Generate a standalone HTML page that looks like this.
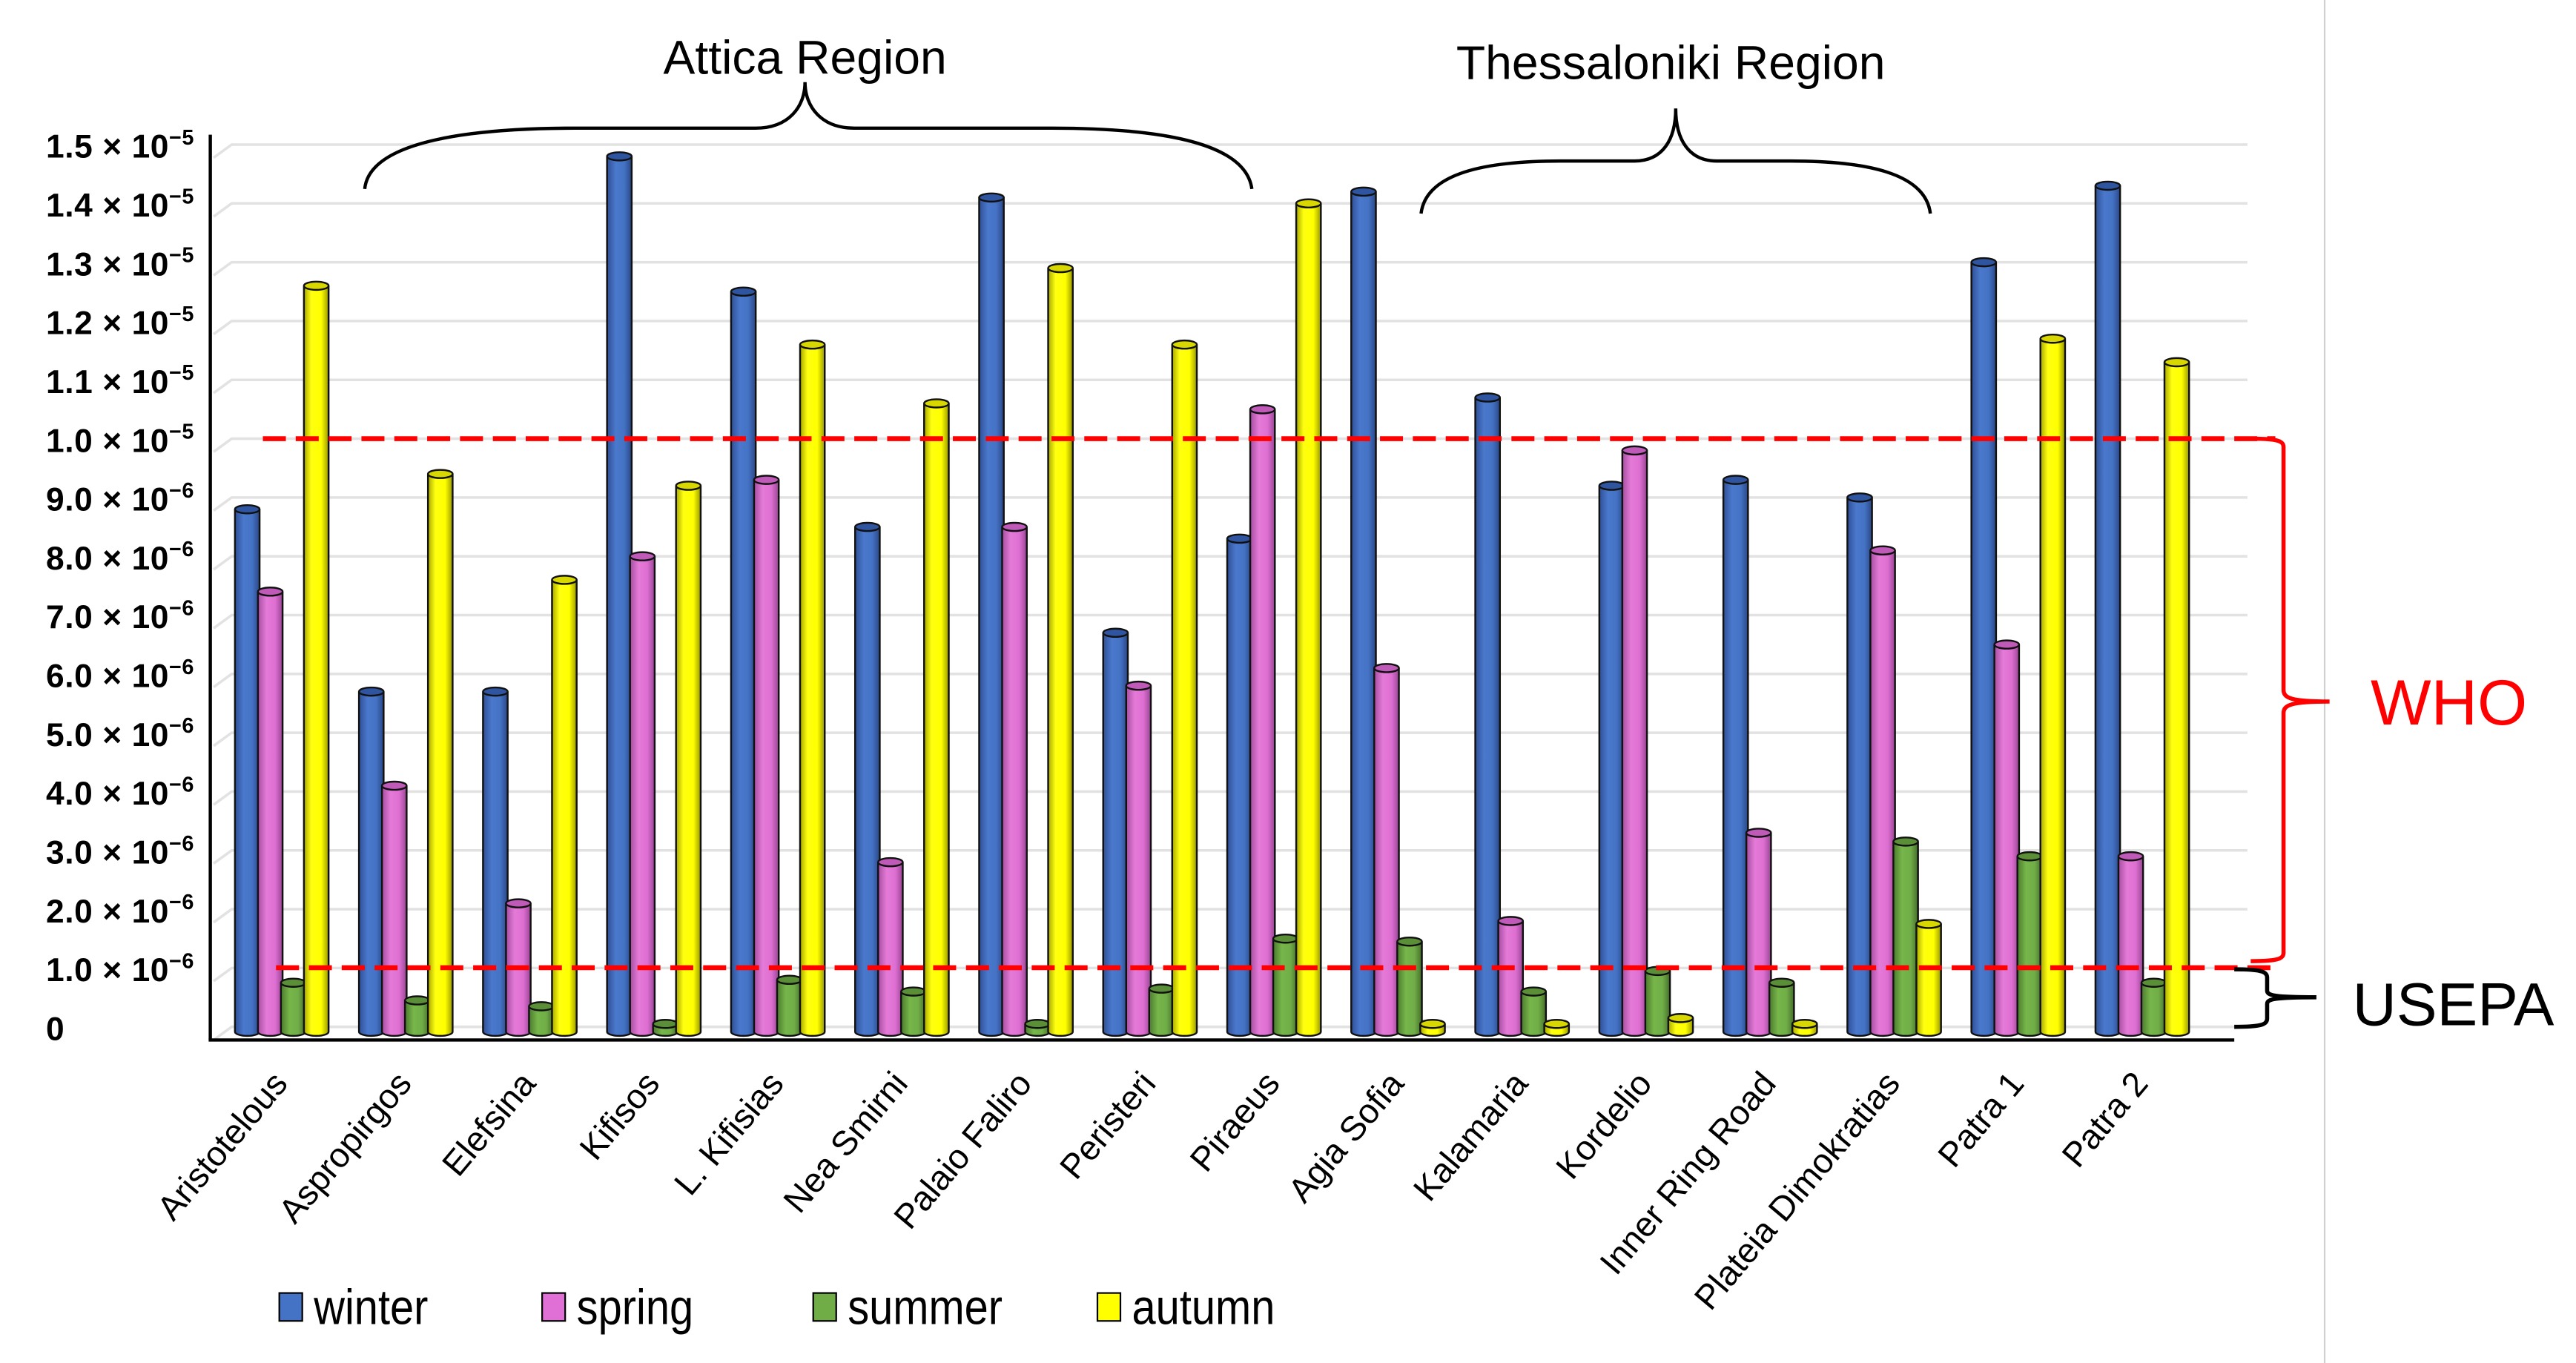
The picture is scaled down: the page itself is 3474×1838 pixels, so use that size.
<!DOCTYPE html>
<html><head><meta charset="utf-8"><style>
html,body{margin:0;padding:0;background:#fff}
svg{display:block}
</style></head><body>
<svg id="chart" width="3474" height="1838" viewBox="0 0 1568 829.6" xmlns="http://www.w3.org/2000/svg">
<defs>
<linearGradient id="gW" x1="0" x2="1"><stop offset="0" stop-color="#2f4f96"/><stop offset="0.35" stop-color="#4a78cc"/><stop offset="0.7" stop-color="#4472c4"/><stop offset="1" stop-color="#2a4786"/></linearGradient>
<linearGradient id="gS" x1="0" x2="1"><stop offset="0" stop-color="#a54ea0"/><stop offset="0.35" stop-color="#e57ad8"/><stop offset="0.7" stop-color="#de6fd2"/><stop offset="1" stop-color="#9a4595"/></linearGradient>
<linearGradient id="gU" x1="0" x2="1"><stop offset="0" stop-color="#4c7a2e"/><stop offset="0.35" stop-color="#76b64a"/><stop offset="0.7" stop-color="#70ad47"/><stop offset="1" stop-color="#456e2a"/></linearGradient>
<linearGradient id="gA" x1="0" x2="1"><stop offset="0" stop-color="#a8a800"/><stop offset="0.3" stop-color="#ffff10"/><stop offset="0.7" stop-color="#ffff00"/><stop offset="1" stop-color="#9a9a00"/></linearGradient>
</defs>
<line x1="1415" y1="0" x2="1415" y2="830" stroke="#d0d0d0" stroke-width="1"/>
<g id="grid"></g>
<g id="yticks"></g>
<g id="bars"></g>
<line x1="128" y1="82" x2="128" y2="633" stroke="#000" stroke-width="2"/>
<line x1="127" y1="633" x2="1360" y2="633" stroke="#000" stroke-width="2"/>
<g id="xlabels"></g>
<line x1="160" y1="267" x2="1385" y2="267" stroke="#ff0000" stroke-width="3" stroke-dasharray="14,6"/>
<line x1="168" y1="589" x2="1385" y2="589" stroke="#ff0000" stroke-width="3" stroke-dasharray="14,6"/>
<path d="M222,115 C225,85 290,78 350,78 L460,78 C480,78 490,65 490,50 C490,65 500,78 520,78 L640,78 C700,78 758,85 762,115" fill="none" stroke="#000" stroke-width="2"/>
<text x="490" y="45" font-family="Liberation Sans, sans-serif" font-size="29" text-anchor="middle">Attica Region</text>
<path d="M865,130 C868,105 905,98 950,98 L995,98 C1012,98 1020,85 1020,66 C1020,85 1028,98 1045,98 L1090,98 C1135,98 1172,105 1175,130" fill="none" stroke="#000" stroke-width="2"/>
<text x="1017" y="48" font-family="Liberation Sans, sans-serif" font-size="29" text-anchor="middle">Thessaloniki Region</text>
<path d="M1370,267 C1385,267 1390,268 1390,272 L1390,420 C1390,425 1395,427 1418,427 C1395,427 1390,429 1390,434 L1390,580 C1390,584 1385,585 1370,585" fill="none" stroke="#ff0000" stroke-width="2.5"/>
<text x="1443" y="441" font-family="Liberation Sans, sans-serif" font-size="39" fill="#ff0000">WHO</text>
<path d="M1360,590 C1375,590 1380,591 1380,595 L1380,603 C1380,606 1385,607 1410,607 C1385,607 1380,608 1380,611 L1380,620 C1380,624 1375,625 1360,625" fill="none" stroke="#000" stroke-width="2.5"/>
<text x="1432" y="624" font-family="Liberation Sans, sans-serif" font-size="37" fill="#000">USEPA</text>
<g id="legend"></g>
</svg>
<script>
const categories = ["Aristotelous","Aspropirgos","Elefsina","Kifisos","L. Kifisias","Nea Smirni","Palaio Faliro","Peristeri","Piraeus","Agia Sofia","Kalamaria","Kordelio","Inner Ring Road","Plateia Dimokratias","Patra 1","Patra 2"];
const winter = [8.8,5.7,5.7,14.8,12.5,8.5,14.1,6.7,8.3,14.2,10.7,9.2,9.3,9.0,13.0,14.3];
const spring = [7.4,4.1,2.1,8.0,9.3,2.8,8.5,5.8,10.5,6.1,1.8,9.8,3.3,8.1,6.5,2.9];
const summer = [0.75,0.45,0.35,0.05,0.8,0.6,0.05,0.65,1.5,1.45,0.6,0.95,0.75,3.15,2.9,0.75];
const autumn = [12.6,9.4,7.6,9.2,11.6,10.6,12.9,11.6,14.0,0.05,0.05,0.15,0.05,1.75,11.7,11.3];
const tickLabels = ["0","1.0","2.0","3.0","4.0","5.0","6.0","7.0","8.0","9.0","1.0","1.1","1.2","1.3","1.4","1.5"];
const tickExps = ["","−6","−6","−6","−6","−6","−6","−6","−6","−6","−5","−5","−5","−5","−5","−5"];
const seriesNames = ["winter","spring","summer","autumn"];

const NS="http://www.w3.org/2000/svg";
function el(tag,attrs,parent){const e=document.createElementNS(NS,tag);for(const k in attrs)e.setAttribute(k,attrs[k]);parent.appendChild(e);return e;}
const y0=625, unit=35.8;
function yScale(v){return y0 - v*unit;}
function xGroup(i){return 172 + i*75.5;}
const grid=document.getElementById('grid'), yt=document.getElementById('yticks');
for(let i=0;i<tickLabels.length;i++){
  const y=yScale(i);
  const g=el('path',{d:`M130,${y+8} L141,${y} L1368,${y}`,fill:'none',stroke:'#e2e2e2','stroke-width':1.6},grid);
  
  
  const t=el('text',{x:28,y:y+8,'font-family':'Liberation Sans, DejaVu Sans, sans-serif','font-size':20,'font-weight':'bold',textLength:tickExps[i]?90:0},yt);
  
  
  if(tickExps[i]){
    t.textContent=tickLabels[i]+" × 10";
    const s=el('tspan',{dy:-8,'font-size':13},t); s.textContent=tickExps[i];
  } else { t.removeAttribute('textLength'); t.textContent=tickLabels[i]; }
}
const bars=document.getElementById('bars');
const series=[winter,spring,summer,autumn], fills=['url(#gW)','url(#gS)','url(#gU)','url(#gA)'], tops=['#2f55a0','#c05ab8','#5a8f38','#d8d800'];
const bw=15, step=14;
for(let i=0;i<categories.length;i++){
  for(let s=0;s<4;s++){
    const x=xGroup(i)-29+s*step, v=series[s][i], yt2=yScale(v);
    const g=el('g',{},bars);
    
    
    el('path',{d:`M${x},${yt2} L${x},${y0+3} A${bw/2},2.5 0 0 0 ${x+bw},${y0+3} L${x+bw},${yt2}`,fill:fills[s],stroke:'#111','stroke-width':1.1},g);
    el('ellipse',{cx:x+bw/2,cy:yt2,rx:bw/2,ry:2.5,fill:tops[s],stroke:'#111','stroke-width':1.1},g);
  }
  const lx=xGroup(i)+4, ly=660;
  const t=el('text',{x:lx,y:ly,'font-family':'Liberation Sans Narrow, Liberation Sans, sans-serif','font-size':21,'text-anchor':'end',transform:`rotate(-50 ${lx} ${ly})`},document.getElementById('xlabels'));
  
  
  t.textContent=categories[i];
}
const lg=document.getElementById('legend');
const lx=[170,330,495,668], lcol=['#4472c4','#e070d6','#70ad47','#ffff00'];
for(let s=0;s<4;s++){
  const g=el('g',{},lg);
  
  
  el('rect',{x:lx[s],y:787,width:14,height:17,fill:lcol[s],stroke:'#000','stroke-width':1},g);
  const t=el('text',{x:0,y:0,'font-family':'Liberation Sans Narrow, Liberation Sans, sans-serif','font-size':30,transform:`translate(${lx[s]+21},806) scale(0.87,1)`},g);
  t.textContent=seriesNames[s];
}
</script>
</body></html>
